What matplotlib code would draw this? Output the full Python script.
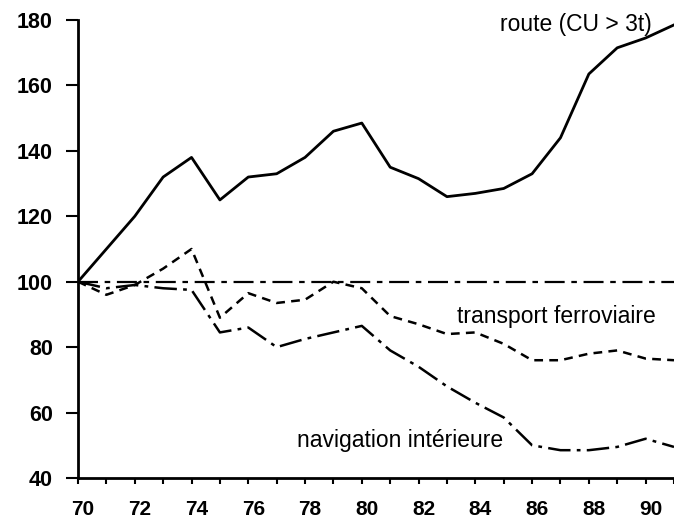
import matplotlib
matplotlib.use('Agg')
import matplotlib.pyplot as plt
import matplotlib.transforms as mtransforms
import numpy as np

plt.rc('font', family='Liberation Sans')

years = list(range(70, 92))
route = [100, 110, 120, 132, 138, 125, 132, 133, 138, 146, 148.5, 135, 131.5, 126, 127, 128.5, 133, 144, 163.5, 171.5, 174.5, 178.5]
ferroviaire = [100, 96, 99, 104, 110, 89, 96.5, 93.5, 94.5, 100, 98, 89.5, 87, 84, 84.5, 81, 76, 76, 78, 79, 76.5, 76]
navigation = [100, 98, 99, 98, 97.5, 84.5, 86, 80, 82.5, 84.5, 86.5, 79, 74, 68, 63, 58.5, 50, 48.5, 48.5, 49.5, 52, 49.5]
reference = [100] * len(years)

y_ticks = [40, 60, 80, 100, 120, 140, 160, 180]
x_major = list(range(70, 91, 2))
x_minor = list(range(71, 92, 2))

W, H = 674, 527
fig = plt.figure(figsize=(W / 100, H / 100), dpi=100)
ax = fig.add_axes([78 / W, 1 - 478 / H, (W - 78) / W, (478 - 20) / H])

ax.plot(years, reference, color='black', linewidth=1.6, linestyle=(0, (9, 3, 2.5, 3)))
ax.plot(years, ferroviaire, color='black', linewidth=1.8, linestyle=(0, (3.5, 2.5)))
ax.plot(years, navigation, color='black', linewidth=1.8, linestyle=(0, (9, 2.5, 1.5, 2.5)))
ax.plot(years, route, color='black', linewidth=2.0)

# annotations placed in pixel positions (top-left origin)
fig.text(500 / W, 1 - 24 / H, 'route (CU > 3t)', fontsize=16.5, va='center', ha='left')
fig.text(457 / W, 1 - 316 / H, 'transport ferroviaire', fontsize=16.5, va='center', ha='left')
fig.text(297 / W, 1 - 441 / H, 'navigation intérieure', fontsize=16.5, va='center', ha='left')

ax.set_xlim(70, 90.88)
ax.set_ylim(40, 180)
ax.set_yticks(y_ticks)
ax.set_xticks(x_major)
ax.set_xticks(x_minor, minor=True)
ax.tick_params(axis='y', direction='out', length=9, width=1.5, pad=9, labelsize=15.5)
ax.tick_params(axis='x', which='both', direction='out', length=4, width=1.5, pad=12, labelsize=15)
shift = mtransforms.ScaledTranslation(5 / 100, 0, fig.dpi_scale_trans)
for lab in ax.get_xticklabels():
    lab.set_fontweight('bold')
    lab.set_transform(lab.get_transform() + shift)
for lab in ax.get_yticklabels():
    lab.set_fontweight('bold')

for s in ['top', 'right']:
    ax.spines[s].set_visible(False)
ax.spines['left'].set_linewidth(2.0)
ax.spines['bottom'].set_linewidth(2.0)

fig.savefig('out.png', dpi=100)
